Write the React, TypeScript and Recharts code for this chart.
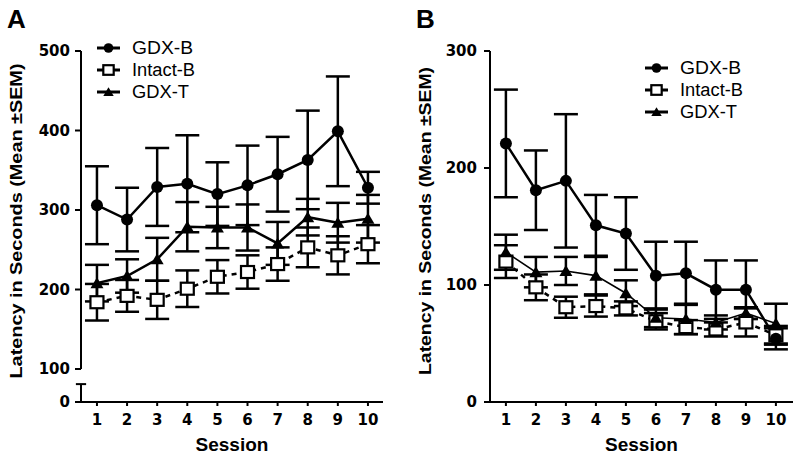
import React from 'react'
import { LineChart, Line, XAxis, YAxis, ErrorBar, ReferenceLine } from 'recharts'

// sessions on the x axis
const sessions = [1, 2, 3, 4, 5, 6, 7, 8, 9, 10]

// Panel A (means and SEM, seconds)
const gdxBMeanA = [306, 288, 329, 333, 320, 331, 345, 363, 399, 328]
const gdxBSemA = [49, 40, 49, 61, 40, 50, 47, 62, 69, 20]
const intactBMeanA = [184, 192, 187, 201, 216, 222, 232, 253, 243, 257]
const intactBSemA = [23, 20, 24, 23, 21, 21, 21, 25, 24, 24]
const gdxTMeanA = [208, 217, 238, 279, 278, 278, 258, 291, 284, 289]
const gdxTSemA = [23, 21, 27, 31, 26, 29, 27, 23, 25, 30]

// Panel B
const gdxBMeanB = [221, 181, 189, 151, 144, 108, 110, 96, 96, 54]
const gdxBSemB = [46, 34, 57, 26, 31, 29, 27, 25, 25, 9]
const intactBMeanB = [120, 98, 81, 82, 80, 69, 64, 62, 68, 57]
const intactBSemB = [14, 11, 9, 9, 6, 7, 6, 6, 12, 8]
const gdxTMeanB = [128, 111, 112, 108, 93, 72, 71, 68, 76, 67]
const gdxTSemB = [15, 13, 12, 16, 11, 8, 13, 6, 5, 17]

// axis ticks
const yTicksA = [100, 200, 300, 400, 500]
const yTicksB = [0, 100, 200, 300]
// panel A has a broken axis: "0" sits just under the break
const BREAK_FLOOR_A = 58.5
const BREAK_TOP_A = 81

const seriesNames = ['GDX-B', 'Intact-B', 'GDX-T']
const yTitle = 'Latency in Seconds (Mean \u00b1SEM)'

const buildRows = (gb: number[], gbe: number[], ib: number[], ibe: number[], gt: number[], gte: number[]) =>
    sessions.map((s, i) => ({
        session: s,
        gdxB: gb[i], gdxBErr: gbe[i],
        intactB: ib[i], intactBErr: ibe[i],
        gdxT: gt[i], gdxTErr: gte[i],
    }))

const rowsA = buildRows(gdxBMeanA, gdxBSemA, intactBMeanA, intactBSemA, gdxTMeanA, gdxTSemA)
const rowsB = buildRows(gdxBMeanB, gdxBSemB, intactBMeanB, intactBSemB, gdxTMeanB, gdxTSemB)

const tickFont = { fontFamily: 'DejaVu Sans', fontWeight: 'bold', fontSize: 15, fill: '#000' }

type Shape = 'circle' | 'square' | 'triangle'

const Marker = ({ cx, cy, shape, small }: { cx: number; cy: number; shape: Shape; small?: boolean }) => {
    if (cx == null || cy == null) return null
    const k = small ? 0.8 : 1
    if (shape === 'circle') return <circle cx={cx} cy={cy} r={6 * k} fill="#000" />
    if (shape === 'square')
        return <rect x={cx - 6.5 * k} y={cy - 6 * k} width={13 * k} height={12 * k} fill="#fff" stroke="#000" strokeWidth={2.2} />
    return <polygon points={`${cx},${cy - 6 * k} ${cx + 6.5 * k},${cy + 5 * k} ${cx - 6.5 * k},${cy + 5 * k}`} fill="#000" />
}

const dotFor = (shape: Shape) => (p: any) => <Marker key={`${shape}-${p.index}`} cx={p.cx} cy={p.cy} shape={shape} />

const YTitle = ({ cx, cy, len }: { cx: number; cy: number; len: number }) => (
    <text
        x={cx}
        y={cy}
        transform={`rotate(-90 ${cx} ${cy})`}
        textAnchor="middle"
        dominantBaseline="central"
        textLength={len}
        lengthAdjust="spacingAndGlyphs"
        style={{ fontFamily: 'Liberation Sans', fontWeight: 'bold', fontSize: 16, fill: '#000' }}
    >
        {yTitle}
    </text>
)

const sessionLabel = {
    value: 'Session',
    position: 'insideBottom' as const,
    offset: 7,
    style: { fontFamily: 'Liberation Sans', fontWeight: 'bold', fontSize: 19, fill: '#000' },
}

const Legend = ({ x, y0, gap }: { x: number; y0: number; gap: number }) => {
    const shapes: Shape[] = ['circle', 'square', 'triangle']
    const widths = [61, 63, 57]
    return (
        <g>
            {seriesNames.map((name, i) => {
                const y = y0 + i * gap
                return (
                    <g key={name}>
                        <line x1={x} x2={x + 23} y1={y} y2={y} stroke="#000" strokeWidth={3} />
                        <Marker cx={x + 11.5} cy={y} shape={shapes[i]} small />
                        <text
                            x={x + 35}
                            y={y}
                            dominantBaseline="central"
                            textLength={widths[i]}
                            lengthAdjust="spacingAndGlyphs"
                            style={{ fontFamily: 'Liberation Sans', fontSize: 18, fill: '#000' }}
                        >
                            {name}
                        </text>
                    </g>
                )
            })}
        </g>
    )
}

const App = () => {
    return (
        <div style={{ position: 'absolute', left: 0, top: 0, width: 800, height: 458, background: '#fff' }}>
            {/* Panel A */}
            <div style={{ position: 'absolute', left: 0, top: 0 }}>
                <LineChart width={400} height={458} data={rowsA} margin={{ top: 51, right: 17, bottom: 0, left: 0 }}>
                    <XAxis
                        dataKey="session"
                        type="number"
                        domain={[0.47, 10.5]}
                        ticks={sessions}
                        allowDataOverflow
                        height={56}
                        tickSize={4}
                        tickMargin={8}
                        tick={tickFont}
                        axisLine={{ stroke: '#000', strokeWidth: 2 }}
                        tickLine={{ stroke: '#000', strokeWidth: 2 }}
                        label={sessionLabel}
                    />
                    <YAxis
                        type="number"
                        domain={[BREAK_FLOOR_A, 500]}
                        ticks={[BREAK_FLOOR_A, ...yTicksA]}
                        tickFormatter={(v: number) => (v === BREAK_FLOOR_A ? '0' : String(v))}
                        allowDataOverflow
                        width={81}
                        tickSize={6}
                        tickMargin={5}
                        tick={tickFont}
                        axisLine={false}
                        tickLine={{ stroke: '#000', strokeWidth: 2 }}
                        label={{ content: () => <YTitle cx={16} cy={221} len={315} /> }}
                    />
                    <ReferenceLine segment={[{ x: 0.47, y: 100 }, { x: 0.47, y: 500 }]} stroke="#000" strokeWidth={2} ifOverflow="visible" />
                    <ReferenceLine segment={[{ x: 0.47, y: BREAK_FLOOR_A }, { x: 0.47, y: BREAK_TOP_A }]} stroke="#000" strokeWidth={2} ifOverflow="visible" />
                    <ReferenceLine segment={[{ x: 0.3, y: BREAK_TOP_A }, { x: 0.64, y: BREAK_TOP_A }]} stroke="#000" strokeWidth={2} ifOverflow="visible" />
                    <Line dataKey="intactB" name="Intact-B" stroke="#000" strokeWidth={2.5} strokeDasharray="5 5" dot={dotFor('square')} isAnimationActive={false}>
                        <ErrorBar dataKey="intactBErr" direction="y" width={12} stroke="#000" strokeWidth={2.5} isAnimationActive={false} />
                    </Line>
                    <Line dataKey="gdxT" name="GDX-T" stroke="#000" strokeWidth={2.5} dot={dotFor('triangle')} isAnimationActive={false}>
                        <ErrorBar dataKey="gdxTErr" direction="y" width={12} stroke="#000" strokeWidth={2.5} isAnimationActive={false} />
                    </Line>
                    <Line dataKey="gdxB" name="GDX-B" stroke="#000" strokeWidth={2.5} dot={dotFor('circle')} isAnimationActive={false}>
                        <ErrorBar dataKey="gdxBErr" direction="y" width={12} stroke="#000" strokeWidth={2.5} isAnimationActive={false} />
                    </Line>
                </LineChart>
            </div>

            {/* Panel B */}
            <div style={{ position: 'absolute', left: 400, top: 0 }}>
                <LineChart width={400} height={458} data={rowsB} margin={{ top: 51, right: 7, bottom: 0, left: 0 }}>
                    <XAxis
                        dataKey="session"
                        type="number"
                        domain={[0.47, 10.57]}
                        ticks={sessions}
                        allowDataOverflow
                        height={56}
                        tickSize={4}
                        tickMargin={8}
                        tick={tickFont}
                        axisLine={{ stroke: '#000', strokeWidth: 2 }}
                        tickLine={{ stroke: '#000', strokeWidth: 2 }}
                        label={sessionLabel}
                    />
                    <YAxis
                        type="number"
                        domain={[0, 300]}
                        ticks={yTicksB}
                        allowDataOverflow
                        width={90}
                        tickSize={6}
                        tickMargin={7}
                        tick={tickFont}
                        axisLine={{ stroke: '#000', strokeWidth: 2 }}
                        tickLine={{ stroke: '#000', strokeWidth: 2 }}
                        label={{ content: () => <YTitle cx={25} cy={221} len={308} /> }}
                    />
                    <Line dataKey="intactB" name="Intact-B" stroke="#000" strokeWidth={2.5} strokeDasharray="5 5" dot={dotFor('square')} isAnimationActive={false}>
                        <ErrorBar dataKey="intactBErr" direction="y" width={12} stroke="#000" strokeWidth={2.5} isAnimationActive={false} />
                    </Line>
                    <Line dataKey="gdxT" name="GDX-T" stroke="#000" strokeWidth={1.6} dot={dotFor('triangle')} isAnimationActive={false}>
                        <ErrorBar dataKey="gdxTErr" direction="y" width={12} stroke="#000" strokeWidth={2.5} isAnimationActive={false} />
                    </Line>
                    <Line dataKey="gdxB" name="GDX-B" stroke="#000" strokeWidth={2.5} dot={dotFor('circle')} isAnimationActive={false}>
                        <ErrorBar dataKey="gdxBErr" direction="y" width={12} stroke="#000" strokeWidth={2.5} isAnimationActive={false} />
                    </Line>
                </LineChart>
            </div>

            {/* panel letters and legends */}
            <svg width={800} height={458} style={{ position: 'absolute', left: 0, top: 0, pointerEvents: 'none' }}>
                <text x={7} y={28} style={{ fontFamily: 'Liberation Sans', fontWeight: 'bold', fontSize: 26 }}>A</text>
                <text x={416} y={28} style={{ fontFamily: 'Liberation Sans', fontWeight: 'bold', fontSize: 26 }}>B</text>
                <Legend x={97} y0={48} gap={22} />
                <Legend x={645} y0={68} gap={22} />
            </svg>
        </div>
    )
}

export default App
